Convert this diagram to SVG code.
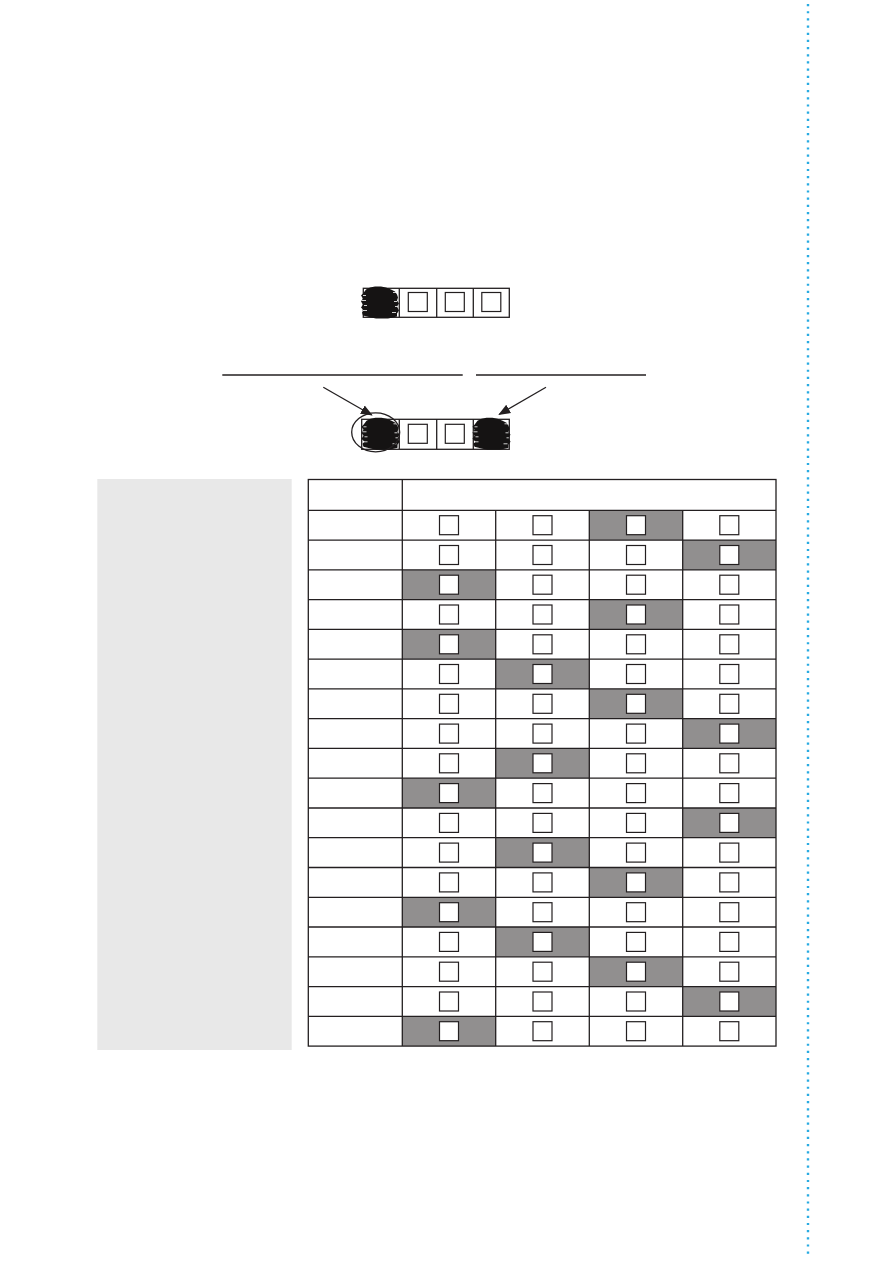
<svg xmlns="http://www.w3.org/2000/svg" width="893" height="1263" viewBox="0 0 893 1263">
<style>
.ln{stroke:#231f20;stroke-width:1.3;fill:none}
.sq{stroke:#231f20;stroke-width:1.2;fill:#fff}
.gr{fill:#918f8f}
.blob{fill:#151313}
.spk{stroke:#fff;stroke-width:0.8}
</style>
<defs>
<marker id="ah" viewBox="0 0 10 10" refX="9" refY="5" markerWidth="12" markerHeight="12" markerUnits="userSpaceOnUse" orient="auto">
<path d="M0,1 L10,5 L0,9 z" fill="#231f20"/>
</marker>
<rect id="s" width="19" height="19" class="sq"/>
<g id="bl">
<path class="blob" d="M1,7 L4,3 L8,1 L13,0 L19,0 L24,1 L29,3 L33,5 L35,8 L36,11 L35,14 L37,17 L35,20 L37,24 L35,27 L35,30 L31,31 L26,32 L20,32 L14,32 L9,31 L5,30 L1,29 L0,26 L2,24 L-1,21 L1,18 L-1,15 L1,12 L-1,9 Z"/>
<path class="spk" d="M1,9 h3 M0,14 h4 M2,19 h3 M1,24 h4 M31,6 h4 M32,15 h3 M30,26 h4 M33,20 h2"/>
</g>
</defs>
<rect x="0" y="0" width="893" height="1263" fill="#fff"/>
<line x1="808" y1="4" x2="808" y2="1258" stroke="#29abe2" stroke-width="2.4" stroke-dasharray="2.2 4.97"/>
<g id="strip1">
<rect x="363.3" y="288.3" width="146" height="29" class="ln"/>
<line x1="399.3" y1="288.3" x2="399.3" y2="317.3" class="ln"/>
<line x1="436.7" y1="288.3" x2="436.7" y2="317.3" class="ln"/>
<line x1="473.3" y1="288.3" x2="473.3" y2="317.3" class="ln"/>
<use href="#s" x="408.3" y="292.5"/>
<use href="#s" x="445.3" y="292.5"/>
<use href="#s" x="481.8" y="292.5"/>
<use href="#bl" x="362" y="286.5"/>
</g>
<g id="labels-lines">
<line x1="222.3" y1="375" x2="462.7" y2="375" class="ln"/>
<line x1="476" y1="375" x2="646" y2="375" class="ln"/>
</g>
<g id="strip2">
<rect x="361.7" y="419.3" width="147.6" height="30" class="ln"/>
<line x1="399.3" y1="419.3" x2="399.3" y2="449.3" class="ln"/>
<line x1="436.7" y1="419.3" x2="436.7" y2="449.3" class="ln"/>
<line x1="473.3" y1="419.3" x2="473.3" y2="449.3" class="ln"/>
<use href="#s" x="408.3" y="424.3"/>
<use href="#s" x="445.3" y="424.3"/>
<use href="#bl" x="362.5" y="417.8"/>
<use href="#bl" x="473.5" y="417.8"/>
<ellipse cx="375.7" cy="432.3" rx="24" ry="19.5" class="ln"/>
</g>
<g id="connectors">
<line x1="323.3" y1="387.3" x2="371.7" y2="415" class="ln" marker-end="url(#ah)"/>
<line x1="546" y1="387.3" x2="499.3" y2="414.3" class="ln" marker-end="url(#ah)"/>
</g>
<g id="side-panel">
<rect x="97.3" y="479" width="194.4" height="571" fill="#e8e8e8"/>
</g>
<g id="table">
<rect class="gr" x="589.3" y="510.3" width="93.4" height="29.8"/>
<rect class="gr" x="682.7" y="540.1" width="93.3" height="29.8"/>
<rect class="gr" x="402.3" y="569.8" width="93.4" height="29.8"/>
<rect class="gr" x="589.3" y="599.6" width="93.4" height="29.8"/>
<rect class="gr" x="402.3" y="629.4" width="93.4" height="29.8"/>
<rect class="gr" x="495.7" y="659.1" width="93.6" height="29.8"/>
<rect class="gr" x="589.3" y="688.9" width="93.4" height="29.8"/>
<rect class="gr" x="682.7" y="718.7" width="93.3" height="29.8"/>
<rect class="gr" x="495.7" y="748.4" width="93.6" height="29.8"/>
<rect class="gr" x="402.3" y="778.2" width="93.4" height="29.8"/>
<rect class="gr" x="682.7" y="808.0" width="93.3" height="29.8"/>
<rect class="gr" x="495.7" y="837.7" width="93.6" height="29.8"/>
<rect class="gr" x="589.3" y="867.5" width="93.4" height="29.8"/>
<rect class="gr" x="402.3" y="897.3" width="93.4" height="29.8"/>
<rect class="gr" x="495.7" y="927.0" width="93.6" height="29.8"/>
<rect class="gr" x="589.3" y="956.8" width="93.4" height="29.8"/>
<rect class="gr" x="682.7" y="986.6" width="93.3" height="29.8"/>
<rect class="gr" x="402.3" y="1016.3" width="93.4" height="29.8"/>
<rect x="308.3" y="479.5" width="467.7" height="566.6" class="ln"/>
<line x1="402.3" y1="479.5" x2="402.3" y2="1046.1" class="ln"/>
<g class="ln">
<line x1="495.7" y1="510.3" x2="495.7" y2="1046.1"/>
<line x1="589.3" y1="510.3" x2="589.3" y2="1046.1"/>
<line x1="682.7" y1="510.3" x2="682.7" y2="1046.1"/>
<line x1="308.3" y1="510.3" x2="776" y2="510.3"/>
<line x1="308.3" y1="540.1" x2="776" y2="540.1"/>
<line x1="308.3" y1="569.8" x2="776" y2="569.8"/>
<line x1="308.3" y1="599.6" x2="776" y2="599.6"/>
<line x1="308.3" y1="629.4" x2="776" y2="629.4"/>
<line x1="308.3" y1="659.1" x2="776" y2="659.1"/>
<line x1="308.3" y1="688.9" x2="776" y2="688.9"/>
<line x1="308.3" y1="718.7" x2="776" y2="718.7"/>
<line x1="308.3" y1="748.4" x2="776" y2="748.4"/>
<line x1="308.3" y1="778.2" x2="776" y2="778.2"/>
<line x1="308.3" y1="808.0" x2="776" y2="808.0"/>
<line x1="308.3" y1="837.7" x2="776" y2="837.7"/>
<line x1="308.3" y1="867.5" x2="776" y2="867.5"/>
<line x1="308.3" y1="897.3" x2="776" y2="897.3"/>
<line x1="308.3" y1="927.0" x2="776" y2="927.0"/>
<line x1="308.3" y1="956.8" x2="776" y2="956.8"/>
<line x1="308.3" y1="986.6" x2="776" y2="986.6"/>
<line x1="308.3" y1="1016.3" x2="776" y2="1016.3"/>
</g>
<g id="squares">
<use href="#s" x="439.5" y="515.7"/><use href="#s" x="533" y="515.7"/><use href="#s" x="626.5" y="515.7"/><use href="#s" x="719.8" y="515.7"/>
<use href="#s" x="439.5" y="545.5"/><use href="#s" x="533" y="545.5"/><use href="#s" x="626.5" y="545.5"/><use href="#s" x="719.8" y="545.5"/>
<use href="#s" x="439.5" y="575.2"/><use href="#s" x="533" y="575.2"/><use href="#s" x="626.5" y="575.2"/><use href="#s" x="719.8" y="575.2"/>
<use href="#s" x="439.5" y="605.0"/><use href="#s" x="533" y="605.0"/><use href="#s" x="626.5" y="605.0"/><use href="#s" x="719.8" y="605.0"/>
<use href="#s" x="439.5" y="634.8"/><use href="#s" x="533" y="634.8"/><use href="#s" x="626.5" y="634.8"/><use href="#s" x="719.8" y="634.8"/>
<use href="#s" x="439.5" y="664.5"/><use href="#s" x="533" y="664.5"/><use href="#s" x="626.5" y="664.5"/><use href="#s" x="719.8" y="664.5"/>
<use href="#s" x="439.5" y="694.3"/><use href="#s" x="533" y="694.3"/><use href="#s" x="626.5" y="694.3"/><use href="#s" x="719.8" y="694.3"/>
<use href="#s" x="439.5" y="724.1"/><use href="#s" x="533" y="724.1"/><use href="#s" x="626.5" y="724.1"/><use href="#s" x="719.8" y="724.1"/>
<use href="#s" x="439.5" y="753.8"/><use href="#s" x="533" y="753.8"/><use href="#s" x="626.5" y="753.8"/><use href="#s" x="719.8" y="753.8"/>
<use href="#s" x="439.5" y="783.6"/><use href="#s" x="533" y="783.6"/><use href="#s" x="626.5" y="783.6"/><use href="#s" x="719.8" y="783.6"/>
<use href="#s" x="439.5" y="813.4"/><use href="#s" x="533" y="813.4"/><use href="#s" x="626.5" y="813.4"/><use href="#s" x="719.8" y="813.4"/>
<use href="#s" x="439.5" y="843.1"/><use href="#s" x="533" y="843.1"/><use href="#s" x="626.5" y="843.1"/><use href="#s" x="719.8" y="843.1"/>
<use href="#s" x="439.5" y="872.9"/><use href="#s" x="533" y="872.9"/><use href="#s" x="626.5" y="872.9"/><use href="#s" x="719.8" y="872.9"/>
<use href="#s" x="439.5" y="902.7"/><use href="#s" x="533" y="902.7"/><use href="#s" x="626.5" y="902.7"/><use href="#s" x="719.8" y="902.7"/>
<use href="#s" x="439.5" y="932.4"/><use href="#s" x="533" y="932.4"/><use href="#s" x="626.5" y="932.4"/><use href="#s" x="719.8" y="932.4"/>
<use href="#s" x="439.5" y="962.2"/><use href="#s" x="533" y="962.2"/><use href="#s" x="626.5" y="962.2"/><use href="#s" x="719.8" y="962.2"/>
<use href="#s" x="439.5" y="992.0"/><use href="#s" x="533" y="992.0"/><use href="#s" x="626.5" y="992.0"/><use href="#s" x="719.8" y="992.0"/>
<use href="#s" x="439.5" y="1021.7"/><use href="#s" x="533" y="1021.7"/><use href="#s" x="626.5" y="1021.7"/><use href="#s" x="719.8" y="1021.7"/>
</g>
</g>
</svg>
